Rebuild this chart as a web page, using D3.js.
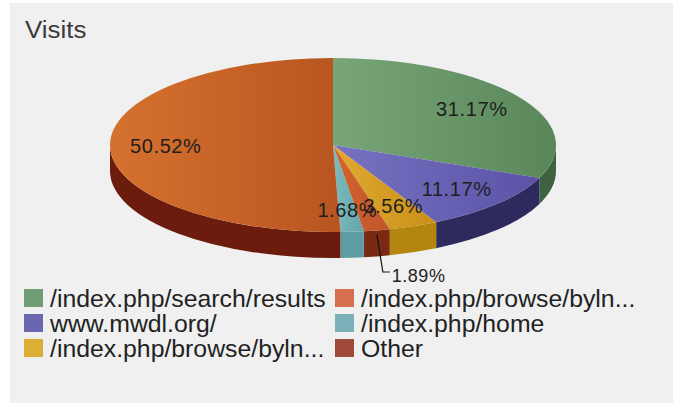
<!DOCTYPE html>
<html>
<head>
<meta charset="utf-8">
<script src="https://cdn.jsdelivr.net/npm/d3@7"></script>
<style>
  body { margin: 0; background: #fff; }
  text { font-family: "Liberation Sans", Arial, sans-serif; }
</style>
</head>
<body>
<svg id="chart" width="680" height="403"></svg>
<script>
// slices in drawing order, clockwise from 12 o'clock
const sliceKeys = ["search", "mwdl", "browse2", "other", "home", "browse1"];
const sliceValues = [31.17, 11.17, 3.56, 1.89, 1.68, 50.52];

// legend, row by row (two columns)
const legendKeys = ["search", "browse1", "mwdl", "home", "browse2", "other"];
const legendNames = ["/index.php/search/results", "/index.php/browse/byln...", "www.mwdl.org/",
    "/index.php/home", "/index.php/browse/byln...", "Other"];

const outsideLabels = ["other"];

const topLight = d3.scaleOrdinal()
    .domain(sliceKeys)
    .range(["#78a678", "#7772c2", "#e2aa32", "#d2642e", "#7dbabe", "#d6722f"]);
const topDark = d3.scaleOrdinal()
    .domain(sliceKeys)
    .range(["#5a875a", "#5a53a6", "#c98f18", "#c0552a", "#62a4a9", "#b8541f"]);
const sideColor = d3.scaleOrdinal()
    .domain(sliceKeys)
    .range(["#3f6241", "#2d2a5e", "#b3870f", "#7a2a12", "#5c9ca2", "#6b1c0c"]);
const swatchColor = d3.scaleOrdinal()
    .domain(sliceKeys)
    .range(["#709e74", "#6a67b0", "#dcae34", "#a04a3a", "#7ab0b8", "#d4704e"]);

const W = 680, H = 403;
const cx = 333, cy = 145, rx = 223, ry = 87, depth = 26;

const svg = d3.select("#chart");
const defs = svg.append("defs");

svg.append("rect").attr("width", W).attr("height", H).attr("fill", "#fff");
svg.append("rect")
    .attr("x", 10).attr("y", 3)
    .attr("width", 663).attr("height", 400)
    .attr("fill", "#f0f0f0");

svg.append("text")
    .attr("x", 25).attr("y", 38)
    .attr("font-size", 24)
    .attr("fill", "#3a3a3a")
    .attr("transform", "translate(25,0) scale(1.08,1) translate(-25,0)")
    .text("Visits");

const data = sliceKeys.map((k, i) => ({ key: k, value: sliceValues[i] }));
const arcs = d3.pie().sort(null).value(d => d.value)(data);

const pt = (a, r = 1, dy = 0) => [cx + rx * r * Math.sin(a), cy - ry * r * Math.cos(a) + dy];

arcs.forEach(d => {
    const g = defs.append("linearGradient")
        .attr("id", "g-" + d.data.key)
        .attr("x1", 0).attr("x2", 1).attr("y1", 0).attr("y2", 0);
    g.append("stop").attr("offset", "0%").attr("stop-color", topLight(d.data.key));
    g.append("stop").attr("offset", "100%").attr("stop-color", topDark(d.data.key));
});

// side walls (front half only)
const sides = svg.append("g");
arcs.forEach(d => {
    const s0 = Math.max(d.startAngle, Math.PI / 2);
    const s1 = Math.min(d.endAngle, 3 * Math.PI / 2);
    if (s0 >= s1) return;
    const p0 = pt(s0), p1 = pt(s1), q0 = pt(s0, 1, depth), q1 = pt(s1, 1, depth);
    const path = `M${p0}A${rx},${ry} 0 0 1 ${p1}L${q1}A${rx},${ry} 0 0 0 ${q0}Z`;
    sides.append("path").attr("d", path).attr("fill", sideColor(d.data.key));
});

// top faces
const tops = svg.append("g");
arcs.forEach(d => {
    const large = d.endAngle - d.startAngle > Math.PI ? 1 : 0;
    const path = `M${cx},${cy}L${pt(d.startAngle)}A${rx},${ry} 0 ${large} 1 ${pt(d.endAngle)}Z`;
    tops.append("path").attr("d", path).attr("fill", `url(#g-${d.data.key})`);
});

// percentage labels (1.68% and 3.56% overlap in the original too)
const labels = svg.append("g").attr("fill", "#1e1e1e");
arcs.forEach(d => {
    const mid = (d.startAngle + d.endAngle) / 2;
    const txt = d.data.value.toFixed(2) + "%";
    if (outsideLabels.includes(d.data.key)) {
        const s = pt(mid, 1, 4);
        const e = [s[0] + 6, cy + ry + depth + 14];
        labels.append("path")
            .attr("d", `M${s}L${e}L${e[0] + 7},${e[1]}`)
            .attr("fill", "none").attr("stroke", "#111").attr("stroke-width", 1.2);
        labels.append("text")
            .attr("x", e[0] + 9).attr("y", e[1] + 10)
            .attr("font-size", 18)
            .attr("letter-spacing", 0.5)
            .text(txt);
    } else {
        const c = pt(mid, 0.75);
        labels.append("text")
            .attr("x", c[0]).attr("y", c[1] + 7)
            .attr("text-anchor", "middle")
            .attr("font-size", 20)
            .attr("letter-spacing", 0.6)
            .text(txt);
    }
});

// legend
const legend = svg.append("g");
legendKeys.forEach((k, i) => {
    const col = i % 2, row = Math.floor(i / 2);
    const x = col === 0 ? 24 : 335;
    const y = 307 + row * 25;
    legend.append("rect")
        .attr("x", x).attr("y", y - 18)
        .attr("width", 19).attr("height", 18)
        .attr("fill", swatchColor(k));
    legend.append("text")
        .attr("x", x + 26).attr("y", y)
        .attr("font-size", 24.8)
        .attr("fill", "#222")
        .text(legendNames[i]);
});
</script>
</body>
</html>
